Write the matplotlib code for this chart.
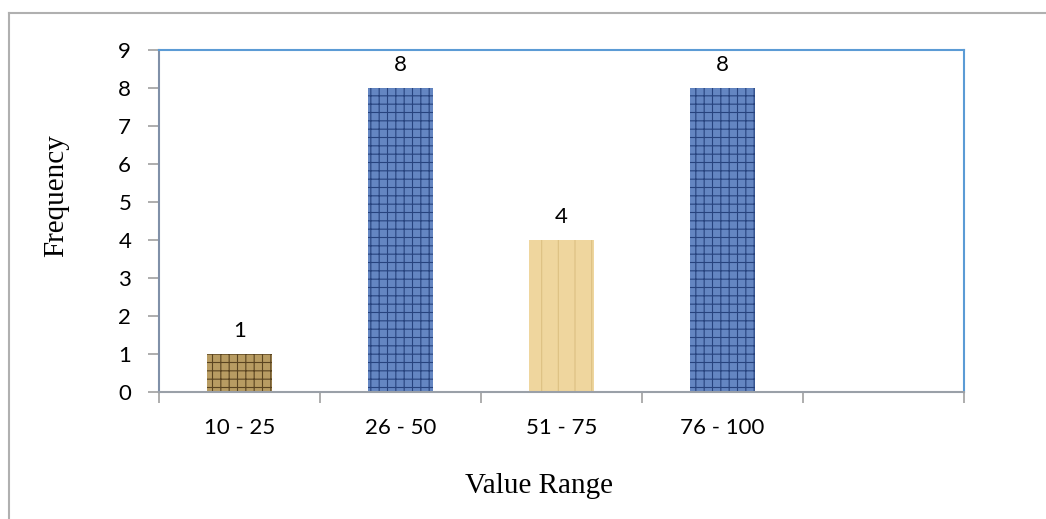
import matplotlib.pyplot as plt
from matplotlib.lines import Line2D

categories = ['10 - 25', '26 - 50', '51 - 75', '76 - 100', '']
counts = [1, 8, 4, 8, None]
bar_colors = ['#b89c62', '#6486c2', '#efd69e', '#6486c2']
hatch_colors = ['#5a4420', '#27437e', '#dcc083', '#27437e']
y_ticks = list(range(0, 10))

plt.rcParams['hatch.linewidth'] = 0.8

fig = plt.figure(figsize=(10.46, 5.19), dpi=100)
ax = fig.add_axes([159 / 1046, 1 - 392 / 519, (964 - 159) / 1046, (392 - 50) / 519])

xs = list(range(len(categories)))
for i, v in enumerate(counts):
    if v is None:
        continue
    ax.bar(xs[i], v, width=0.4, color=bar_colors[i], edgecolor=hatch_colors[i],
           hatch='++' if i != 2 else '|', linewidth=0, zorder=2)
    ax.text(xs[i], v + 0.33, str(v), ha='center', va='bottom',
            fontsize=16, family='Lato', color='black')

ax.set_xlim(-0.5, len(categories) - 0.5)
ax.set_ylim(0, 9)
ax.set_yticks(y_ticks)
ax.set_yticklabels([str(t) for t in y_ticks], family='Lato', fontsize=16)

ax.set_xticks([x + 0.5 for x in xs[:-1]] + [-0.5, len(categories) - 0.5])
ax.set_xticklabels([])
ax.set_xticks(xs, minor=True)
ax.set_xticklabels(categories, minor=True, family='Lato', fontsize=16)
ax.tick_params(axis='x', which='minor', length=0, pad=19)
ax.tick_params(axis='x', which='major', length=8, color='#a0a0a0', width=1.2)
ax.tick_params(axis='y', length=8, color='#a0a0a0', width=1.2, pad=12)

ax.spines['left'].set_color('#8090a8')
ax.spines['bottom'].set_color('#9aa0a8')
ax.spines['top'].set_color('#5b9bd5')
ax.spines['right'].set_color('#5b9bd5')
for s in ax.spines.values():
    s.set_linewidth(1.5)

fig.text(56 / 1046, 1 - 196 / 519, 'Frequency', rotation=90, ha='center', va='center',
         family='Liberation Serif', fontsize=21)
fig.text(539 / 1046, 1 - 486 / 519, 'Value Range', ha='center', va='center',
         family='Liberation Serif', fontsize=21)

# outer chart frame (only top and left edges visible)
fig.add_artist(Line2D([9 / 1046, 9 / 1046], [0, 1 - 13 / 519], color='#b0b0b0', lw=1.5,
                      transform=fig.transFigure))
fig.add_artist(Line2D([9 / 1046, 1], [1 - 13 / 519, 1 - 13 / 519], color='#b0b0b0', lw=1.5,
                      transform=fig.transFigure))

fig.savefig('out.png', dpi=100)
